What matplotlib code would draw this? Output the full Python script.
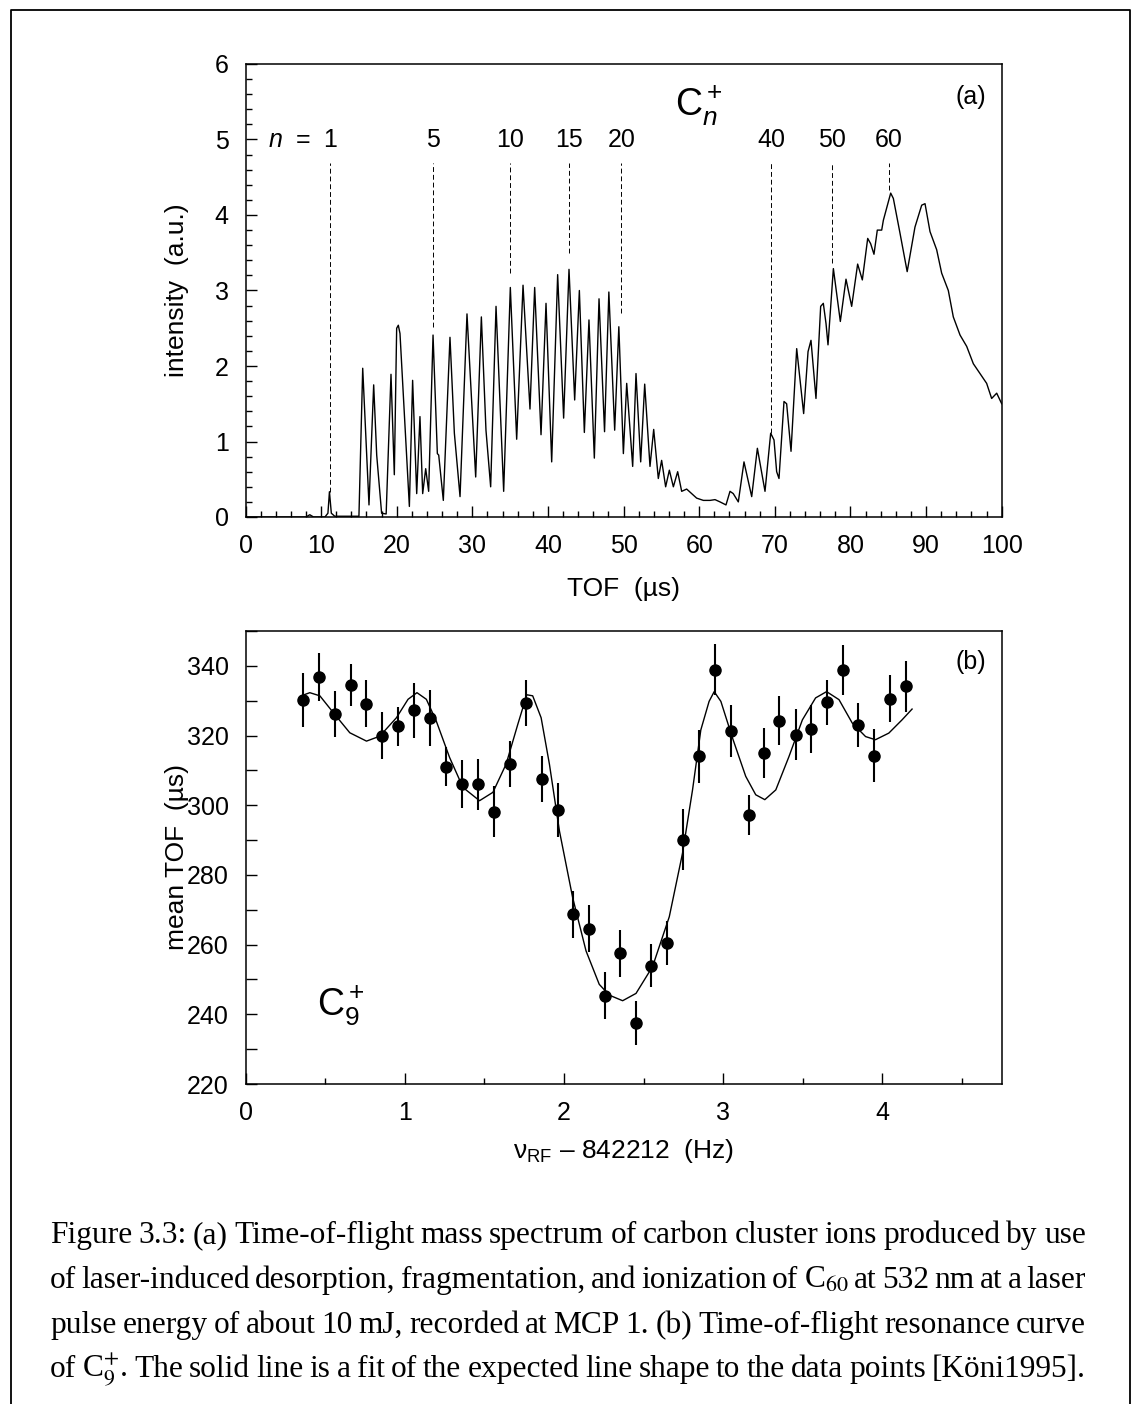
import matplotlib
matplotlib.use("Agg")
import matplotlib.pyplot as plt
from matplotlib.ticker import MultipleLocator
from matplotlib.lines import Line2D

# (a) TOF spectrum of C_n+ clusters (peaks and valleys)
tof_us = [0.0, 8.0, 8.5, 9.0, 10.5, 10.9, 11.1, 11.35, 11.8, 15.0,
          15.5, 16.33, 16.95, 17.35, 18.0, 18.6, 19.24, 19.68, 19.99, 20.21,
          20.43, 21.67, 22.1, 22.64, 23.07, 23.43, 23.83, 24.22, 24.8, 25.37,
          25.55, 26.16, 27.04, 27.62, 28.37, 29.29, 30.44, 31.19, 31.8, 32.42,
          33.13, 34.14, 35.02, 35.86, 36.7, 37.62, 38.24, 39.08, 39.74, 40.49,
          41.28, 42.07, 42.78, 43.53, 44.15, 44.81, 45.42, 46.13, 46.75, 47.48,
          48.05, 48.82, 49.37, 49.97, 50.41, 51.2, 51.64, 52.26, 52.79, 53.49,
          53.98, 54.59, 55.03, 55.56, 56.05, 56.58, 57.15, 57.68, 58.34, 59.0,
          59.66, 60.55, 61.43, 62.09, 62.75, 63.54, 64.07, 64.5, 65.17, 65.92,
          66.94, 67.69, 68.7, 69.45, 69.89, 70.24, 70.55, 71.21, 71.56, 72.14,
          72.89, 73.81, 74.39, 74.78, 75.44, 76.06, 76.41, 76.77, 77.03, 77.74,
          78.66, 79.41, 80.16, 80.95, 81.57, 82.28, 82.67, 83.11, 83.55, 84.13,
          84.35, 85.32, 85.67, 86.55, 87.5, 88.53, 89.42, 89.86, 90.52, 91.4,
          92.06, 92.94, 93.6, 94.49, 95.37, 96.25, 97.13, 98.01, 98.67, 99.34,
          100.0]
intensity = [0.0, 0.0, 0.03, 0.0, 0.0, 0.05, 0.335, 0.05, 0.01, 0.01,
             1.97, 0.16, 1.75, 0.82, 0.05, 0.04, 1.89, 0.56, 2.5, 2.54,
             2.43, 0.14, 1.81, 0.31, 1.33, 0.31, 0.64, 0.34, 2.41, 0.84,
             0.82, 0.22, 2.38, 1.11, 0.27, 2.69, 0.53, 2.65, 1.15, 0.40,
             2.79, 0.34, 3.04, 1.03, 3.07, 1.43, 3.04, 1.09, 2.83, 0.73,
             3.21, 1.31, 3.28, 1.55, 3.00, 1.12, 2.61, 0.78, 2.89, 1.13,
             2.98, 1.15, 2.52, 0.84, 1.77, 0.67, 1.90, 0.73, 1.76, 0.67,
             1.16, 0.51, 0.75, 0.40, 0.62, 0.40, 0.60, 0.34, 0.37, 0.31,
             0.25, 0.22, 0.22, 0.23, 0.20, 0.16, 0.34, 0.31, 0.20, 0.73,
             0.27, 0.91, 0.34, 1.11, 1.02, 0.60, 0.51, 1.53, 1.50, 0.87,
             2.23, 1.37, 2.19, 2.34, 1.57, 2.79, 2.83, 2.56, 2.28, 3.29,
             2.59, 3.15, 2.79, 3.35, 3.14, 3.69, 3.62, 3.48, 3.80, 3.80,
             3.93, 4.29, 4.22, 3.76, 3.25, 3.84, 4.13, 4.15, 3.78, 3.54,
             3.23, 3.00, 2.65, 2.41, 2.26, 2.03, 1.90, 1.77, 1.57, 1.64,
             1.50]

# cluster size markers
cluster_n = ["1", "5", "10", "15", "20", "40", "50", "60"]
marker_tof = [11.2, 24.8, 35.0, 42.8, 49.7, 69.5, 77.5, 85.1]
marker_end = [0.33, 2.52, 3.23, 3.50, 2.70, 1.11, 3.36, 4.33]

# (b) TOF resonance of C9+
freq = [0.36, 0.46, 0.56, 0.66, 0.76, 0.86, 0.96, 1.06, 1.16, 1.26,
        1.36, 1.46, 1.56, 1.66, 1.76, 1.86, 1.96, 2.06, 2.16, 2.26,
        2.35, 2.45, 2.55, 2.65, 2.75, 2.85, 2.95, 3.05, 3.16, 3.26,
        3.35, 3.46, 3.55, 3.65, 3.75, 3.85, 3.95, 4.05, 4.15]
mean_tof = [330.2, 336.8, 326.2, 334.5, 329.1, 320.0, 322.6, 327.2, 325.0, 311.1,
            306.0, 306.0, 298.2, 311.8, 329.3, 307.5, 298.7, 268.7, 264.6, 245.3,
            257.5, 237.4, 253.9, 260.4, 290.1, 314.0, 338.9, 321.4, 297.2, 315.1,
            324.3, 320.2, 322.0, 329.5, 338.9, 323.0, 314.2, 330.6, 334.1]
tof_err = [7.7, 6.8, 6.6, 6.1, 6.7, 6.7, 5.6, 7.9, 8.1, 5.6,
           6.9, 7.4, 7.3, 6.5, 6.6, 6.7, 7.7, 6.8, 6.7, 6.7,
           6.8, 6.3, 6.2, 6.3, 8.7, 7.7, 7.4, 7.5, 5.6, 7.2,
           7.0, 7.3, 6.9, 6.5, 7.2, 6.2, 7.6, 6.7, 7.4]

fit_freq = [0.362, 0.404, 0.467, 0.551, 0.655, 0.760, 0.843, 0.948, 1.021, 1.077,
            1.136, 1.198, 1.282, 1.366, 1.470, 1.554, 1.637, 1.711, 1.767, 1.804,
            1.857, 1.909, 1.972, 2.055, 2.139, 2.222, 2.285, 2.369, 2.453, 2.557,
            2.662, 2.745, 2.808, 2.860, 2.912, 2.944, 2.986, 3.059, 3.142, 3.205,
            3.262, 3.331, 3.414, 3.498, 3.581, 3.650, 3.728, 3.811, 3.895, 3.957,
            4.041, 4.124, 4.187]
fit_tof = [331.6, 332.3, 331.4, 326.6, 320.8, 318.4, 319.8, 325.1, 330.4, 332.3,
           330.4, 324.2, 313.7, 305.1, 301.3, 303.7, 311.8, 323.3, 331.7, 331.4,
           325.1, 311.8, 292.6, 273.5, 258.2, 248.6, 245.5, 243.9, 246.0, 253.7,
           268.0, 286.2, 304.4, 321.6, 329.8, 332.6, 329.8, 319.3, 308.3, 303.0,
           301.6, 304.4, 314.0, 324.5, 330.8, 332.6, 330.3, 323.6, 319.7, 318.8,
           320.7, 324.5, 327.6]

caption_lines = [
    "Figure 3.3: (a) Time-of-flight mass spectrum of carbon cluster ions produced by use",
    "of laser-induced desorption, fragmentation, and ionization of C$_{60}$ at 532 nm at a laser",
    "pulse energy of about 10 mJ, recorded at MCP 1. (b) Time-of-flight resonance curve",
    "of C$_{9}^{+}$. The solid line is a fit of the expected line shape to the data points [Köni1995].",
]

plt.rcParams["font.family"] = ["Liberation Sans", "DejaVu Sans"]
plt.rcParams["mathtext.fontset"] = "custom"
plt.rcParams["mathtext.rm"] = "Liberation Sans"
plt.rcParams["mathtext.it"] = "Liberation Sans:italic"
plt.rcParams["mathtext.bf"] = "Liberation Sans:bold"

W, H = 1133, 1404
fig = plt.figure(figsize=(W / 100, H / 100), dpi=100)


def px_box(left, top, right, bottom):
    return [left / W, 1 - bottom / H, (right - left) / W, (bottom - top) / H]


ax1 = fig.add_axes(px_box(245.5, 64, 1001.7, 517))
ax2 = fig.add_axes(px_box(245.5, 631, 1001.7, 1084))

for ax in (ax1, ax2):
    for s in ax.spines.values():
        s.set_linewidth(1.1)
    ax.tick_params(which="both", direction="in", top=False, right=False,
                   labelsize=18, pad=12, width=1.0)
    ax.tick_params(which="major", length=8)
    ax.tick_params(which="minor", length=4)

# panel (a)
ax1.plot(tof_us, intensity, color="black", lw=1.0)
ax1.set_xlim(0, 100)
ax1.set_ylim(0, 6)
ax1.xaxis.set_major_locator(MultipleLocator(10))
ax1.xaxis.set_minor_locator(MultipleLocator(2))
ax1.yaxis.set_major_locator(MultipleLocator(1))
ax1.yaxis.set_minor_locator(MultipleLocator(0.2))
ax1.set_xlabel("TOF  (µs)", fontsize=19, va="center")
ax1.xaxis.set_label_coords(0.5, -0.16)
ax1.set_ylabel("intensity  (a.u.)", fontsize=19, va="center")
ax1.yaxis.set_label_coords(-0.091, 0.5)

for label, x, y_end in zip(cluster_n, marker_tof, marker_end):
    ax1.vlines(x, y_end, 4.69, color="black", lw=0.7, linestyles=(0, (5, 3)))
    ax1.text(x, 4.9, label, fontsize=18, ha="center", va="baseline")
ax1.text(8.7, 4.9, "$n$  =", fontsize=18, ha="right", va="baseline")
ax1.text(56.8, 5.32, "C$_n^+$", fontsize=27, ha="left", va="baseline")
ax1.text(0.9795, 0.927, "(a)", fontsize=18, ha="right", va="center",
         transform=ax1.transAxes)

# panel (b)
ax2.errorbar(freq, mean_tof, yerr=tof_err, fmt="o", color="black", ms=8,
             elinewidth=1.5, capsize=0)
ax2.plot(fit_freq, fit_tof, color="black", lw=1.0)
ax2.set_xlim(0, 4.75)
ax2.set_ylim(220, 350)
ax2.xaxis.set_major_locator(MultipleLocator(1))
ax2.xaxis.set_minor_locator(MultipleLocator(0.5))
ax2.yaxis.set_major_locator(MultipleLocator(20))
ax2.yaxis.set_minor_locator(MultipleLocator(10))
ax2.tick_params(axis="y", which="minor", length=8)
ax2.set_xlabel("ν$_{\\mathrm{RF}}$ – 842212  (Hz)", fontsize=19, va="center")
ax2.xaxis.set_label_coords(0.5, -0.148)
ax2.set_ylabel("mean TOF  (µs)", fontsize=19, va="center")
ax2.yaxis.set_label_coords(-0.091, 0.5)
ax2.text(0.094, 0.152, "C$_9^+$", fontsize=27, ha="left", va="baseline",
         transform=ax2.transAxes)
ax2.text(0.9795, 0.932, "(b)", fontsize=18, ha="right", va="center",
         transform=ax2.transAxes)

# page frame
fig.add_artist(Line2D([11 / W, 11 / W, 1130 / W, 1130 / W], [0, 1 - 10 / H, 1 - 10 / H, 0],
                      transform=fig.transFigure, color="black", lw=1.3))

# justified caption
renderer = fig.canvas.get_renderer()
left_px, right_px = 50, 1086
baselines = [1243, 1288, 1333, 1377]
for line, base in zip(caption_lines, baselines):
    words = line.split(" ")
    texts = [fig.text(0, 1 - base / H, w, fontsize=22.6, family="Liberation Serif",
                      math_fontfamily="stix", va="baseline", ha="left")
             for w in words]
    widths = [t.get_window_extent(renderer).width for t in texts]
    gap = max((right_px - left_px - sum(widths)) / (len(words) - 1), 3.0)
    x = left_px
    for t, w in zip(texts, widths):
        t.set_x(x / W)
        x += w + gap

fig.savefig("out.png", dpi=100)
